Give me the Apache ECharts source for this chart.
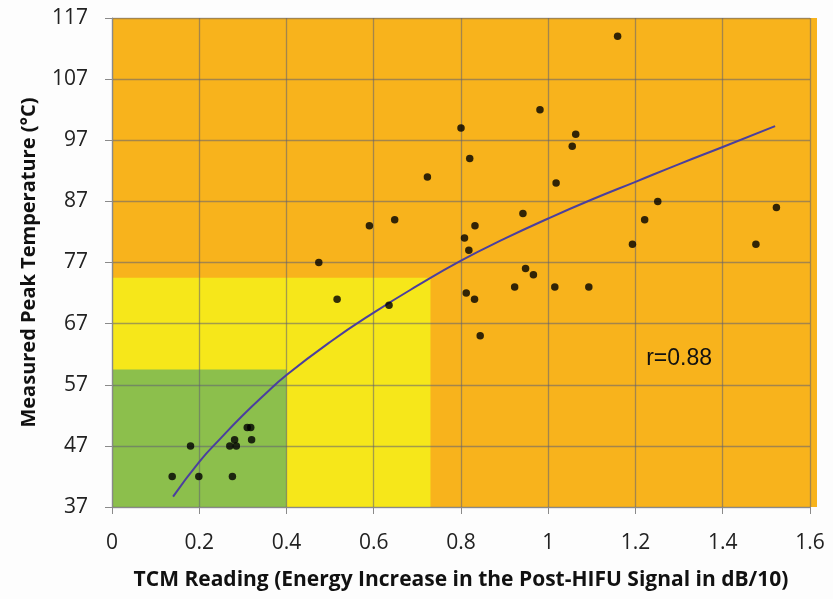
<!DOCTYPE html>
<html><head><meta charset="utf-8">
<script src="https://cdn.jsdelivr.net/npm/echarts@6/dist/echarts.min.js"></script>
<style>html,body{margin:0;padding:0;background:#fdfdfd}#c{width:833px;height:599px}</style>
</head><body><div id="c"></div>
<script>
// Scatter data (TCM reading, measured peak temperature)
const tcmX = [0.138,0.18,0.199,0.27,0.276,0.281,0.285,0.31,0.318,0.32,0.474,0.516,0.59,0.635,0.648,0.723,0.80,0.808,0.812,0.818,0.82,0.831,0.832,0.844,0.923,0.942,0.948,0.966,0.981,1.015,1.018,1.055,1.063,1.093,1.159,1.193,1.221,1.251,1.476,1.523];
const tempY = [42,47,42,47,42,48,47,50,50,48,77,71,83,70,84,91,99,81,72,79,94,71,83,65,73,85,76,75,102,73,90,96,98,73,114,80,84,87,80,86];
// Trend curve
const fitX = [0.14,0.2,0.25,0.3,0.35,0.4,0.5,0.6,0.7,0.8,0.9,1.0,1.1,1.2,1.3,1.4,1.52];
const fitY = [38.7,44.4,48.3,52.0,55.4,58.6,64.0,68.8,73.2,77.3,80.9,84.2,87.3,90.2,93.1,95.9,99.3];
// Zones [xMax, yMax]
const yellowZone = [0.73, 74.5];
const greenZone = [0.4, 59.5];
const yTicks = [37,47,57,67,77,87,97,107,117];
const xTicks = [0,0.2,0.4,0.6,0.8,1,1.2,1.4,1.6];
const rLabel = 'r=0.88';

const chart = echarts.init(document.getElementById('c'));
const font = "'Open Sans', 'Noto Sans', sans-serif";
const gridCol = 'rgba(95,95,115,0.55)';
const orange = '#F8B31C';
chart.setOption({
  animation: false,
  grid: {left: 112, right: 23, top: 18, bottom: 92, show: true, backgroundColor: orange, borderWidth: 0},
  graphic: [{type: 'rect', left: 810, top: 18, shape: {width: 7, height: 489}, style: {fill: orange}, z: -1}],
  xAxis: {
    type: 'value', min: xTicks[0], max: xTicks[xTicks.length-1], interval: 0.2, z: 2,
    name: 'TCM Reading (Energy Increase in the Post-HIFU Signal in dB/10)',
    nameLocation: 'middle', nameGap: 63,
    nameTextStyle: {fontFamily: font, fontWeight: 'bold', fontSize: 21, color: '#111'},
    axisLine: {show: true, lineStyle: {color: '#8a8a8a', width: 1.2}},
    axisTick: {show: true, length: 7, lineStyle: {color: '#8a8a8a'}},
    axisLabel: {margin: 26, fontFamily: font, fontSize: 21, color: '#222',
      formatter: v => String(Math.round(v*10)/10)},
    splitLine: {show: true, lineStyle: {color: gridCol, width: 1.3}}
  },
  yAxis: {
    type: 'value', min: yTicks[0], max: yTicks[yTicks.length-1], interval: 10, z: 2,
    name: 'Measured Peak Temperature (°C)',
    nameLocation: 'middle', nameGap: 73,
    nameTextStyle: {fontFamily: font, fontWeight: 'bold', fontSize: 20, color: '#111'},
    axisLine: {show: true, lineStyle: {color: '#8a8a8a', width: 1.2}},
    axisTick: {show: true, length: 7, lineStyle: {color: '#8a8a8a'}},
    axisLabel: {margin: 24, fontFamily: font, fontSize: 21, color: '#222'},
    splitLine: {show: true, lineStyle: {color: gridCol, width: 1.3}}
  },
  series: [
    {type: 'line', data: [], z: 1, silent: true,
     markArea: {silent: true, data: [
       [{coord: [0, yTicks[0]], itemStyle: {color: '#F6E71A'}}, {coord: yellowZone}],
       [{coord: [0, yTicks[0]], itemStyle: {color: '#8CBF4C'}}, {coord: greenZone}]
     ]}},
    {type: 'line', data: fitX.map((x,i)=>[x, fitY[i]]), smooth: true, symbol: 'none', z: 3,
     lineStyle: {color: '#4B3F9E', width: 2},
     markPoint: {symbol: 'circle', symbolSize: 0, data: [{coord: [1.30, 61.2], value: rLabel}],
       label: {show: true, formatter: rLabel, fontFamily: "'Liberation Sans', Arial, sans-serif", fontSize: 23, color: '#111'}}},
    {type: 'scatter', data: tcmX.map((x,i)=>[x, tempY[i]]), symbolSize: 7.5, z: 4,
     itemStyle: {color: '#000'}}
  ]
});
</script></body></html>
